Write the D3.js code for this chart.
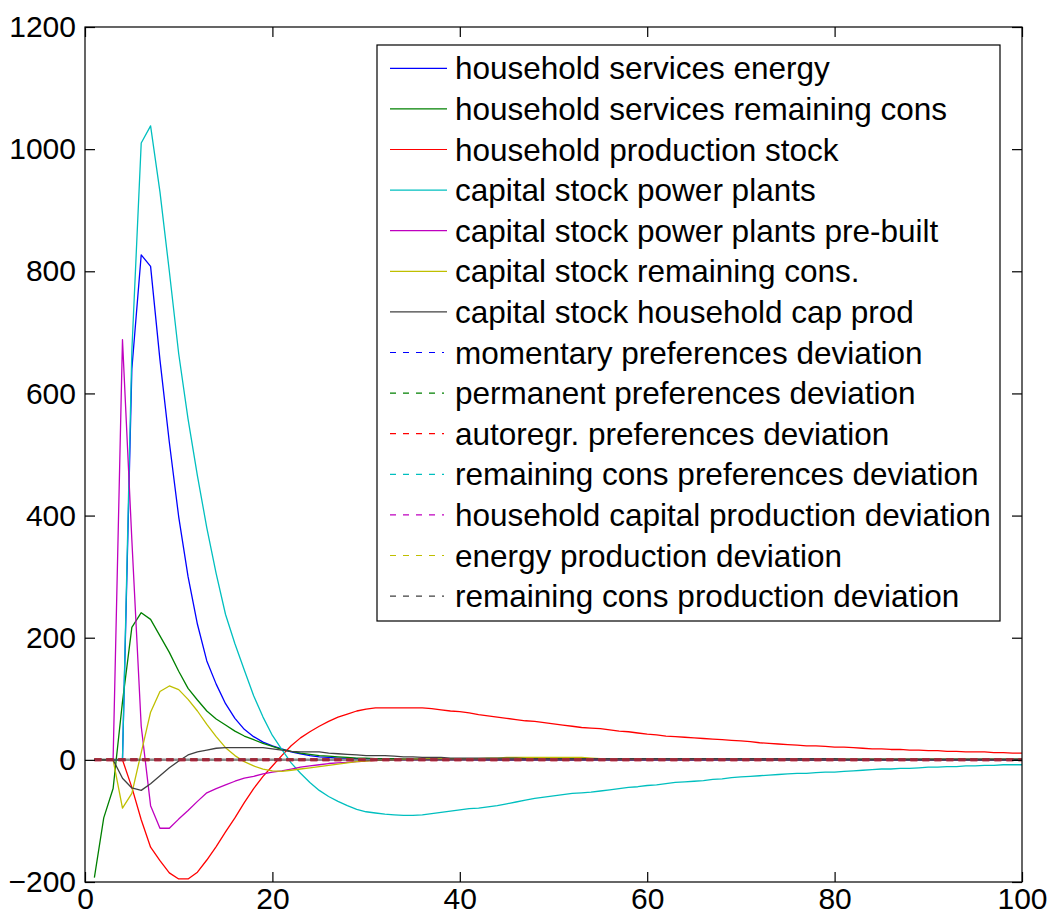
<!DOCTYPE html>
<html>
<head>
<meta charset="utf-8">
<script src="https://cdn.jsdelivr.net/npm/d3@7"></script>
<style>
  html, body { margin: 0; padding: 0; background: #ffffff; }
  svg { display: block; font-family: "Liberation Sans", Arial, Helvetica, sans-serif; }
</style>
</head>
<body>
<svg id="chart" width="1051" height="916"></svg>
<script>
// ---------------- DATA ----------------
const periods = [1,2,3,4,5,6,7,8,9,10,11,12,13,14,15,16,17,18,19,20,
  21,22,23,24,25,26,27,28,29,30,31,32,33,34,35,36,37,38,39,40,
  41,42,43,44,45,46,47,48,49,50,51,52,53,54,55,56,57,58,59,60,
  61,62,63,64,65,66,67,68,69,70,71,72,73,74,75,76,77,78,79,80,
  81,82,83,84,85,86,87,88,89,90,91,92,93,94,95,96,97,98,99,100];

const xTicks = [0, 20, 40, 60, 80, 100];
const yTicks = [-200, 0, 200, 400, 600, 800, 1000, 1200];

const householdServicesEnergy = [0,0,0,0,640,827,808,655,520,398,
  300,222,162,124,92,68,50,38,29,23,
  18,13,10,7,5,4,3,3,2,2,
  2,2,1,1,1,1,1,1,1,1,
  1,0,0,0,0,0,0,0,0,0,
  0,0,0,0,0,0,0,0,0,0,
  0,0,0,0,0,0,0,0,0,0,
  0,0,0,0,0,0,0,0,0,0,
  0,0,0,0,0,0,0,0,0,0,
  0,0,0,0,0,0,0,0,0,0];

const householdServicesRemainingCons = [-193,-95,-47,95,217,241,230,203,176,145,
  117,98,80,67,57,47,39,33,27,22,
  17,14,11,9,7,6,5,4,3,3,
  2,2,2,1,1,1,1,1,1,1,
  1,1,1,1,1,1,1,1,1,1,
  1,1,1,1,1,1,1,1,1,1,
  1,1,1,1,1,1,1,1,1,1,
  0,0,0,0,0,0,0,0,0,0,
  0,0,0,0,0,0,0,0,0,0,
  0,0,0,0,0,0,0,0,0,0];

const householdProductionStock = [0,0,0,0,-45,-98,-143,-165,-185,-195,
  -195,-184,-164,-142,-118,-95,-70,-47,-27,-10,
  7,23,36,46,55,63,70,75,80,83,
  85,85,85,85,85,85,84,82,80,79,
  77,74,72,70,68,66,64,63,61,59,
  57,55,53,52,51,49,47,46,44,42,
  41,39,38,37,36,35,34,33,32,31,
  30,28,27,26,25,24,23,23,22,21,
  21,20,19,18,18,17,17,16,16,15,
  15,14,14,13,13,13,12,12,11,11];

const capitalStockPowerPlants = [0,0,0,0,670,1010,1038,930,800,665,
  558,465,380,305,238,190,147,105,70,40,
  17,-5,-22,-37,-50,-60,-68,-75,-81,-85,
  -87,-89,-90,-91,-91,-90,-88,-86,-84,-82,
  -80,-79,-77,-75,-72,-69,-66,-63,-61,-59,
  -57,-55,-54,-53,-51,-49,-47,-45,-44,-42,
  -41,-39,-37,-36,-35,-34,-32,-31,-29,-28,
  -27,-26,-25,-24,-23,-22,-22,-21,-20,-20,
  -19,-18,-17,-16,-15,-15,-14,-14,-13,-12,
  -12,-11,-11,-10,-10,-9,-9,-8,-8,-8];

const capitalStockPowerPlantsPreBuilt = [0,0,0,688,360,55,-75,-112,-112,-97,
  -83,-68,-54,-47,-41,-35,-30,-27,-23,-20,
  -18,-15,-12,-10,-8,-6,-5,-4,-3,-2,
  -1,-1,0,0,0,0,0,0,0,0,
  0,0,0,0,0,0,0,0,0,0,
  0,0,0,0,0,0,0,0,0,0,
  0,0,0,0,0,0,0,0,0,0,
  0,0,0,0,0,0,0,0,0,0,
  0,0,0,0,0,0,0,0,0,0,
  0,0,0,0,0,0,0,0,0,0];

const capitalStockRemainingCons = [0,0,0,-79,-55,12,78,112,121,115,
  99,80,58,38,20,7,-3,-10,-15,-18,
  -19,-17,-15,-13,-11,-9,-7,-5,-3,-2,
  -1,0,0,1,1,2,2,2,2,2,
  2,2,3,3,4,4,4,4,4,4,
  4,4,4,3,2,2,2,2,2,2,
  2,2,2,2,2,2,2,2,2,2,
  2,2,2,2,2,2,2,2,2,2,
  1,1,1,1,1,1,1,1,1,1,
  1,1,1,1,1,1,1,1,1,1];

const capitalStockHouseholdCapProd = [0,0,0,-30,-46,-50,-39,-26,-13,-2,
  8,13,16,19,20,20,20,20,20,18,
  16,14,13,13,13,11,10,9,8,7,
  7,7,6,5,5,4,4,4,3,3,
  3,3,3,3,3,3,2,2,2,2,
  2,2,2,2,2,2,2,2,2,2,
  2,2,2,2,2,2,2,2,2,2,
  2,2,2,2,2,2,2,2,2,2,
  1,1,1,1,1,1,1,1,1,1,
  1,1,1,1,1,1,1,1,1,1];

// all deviation series read as flat zero lines
const deviationZero = [0,0,0,0,0,0,0,0,0,0,
  0,0,0,0,0,0,0,0,0,0,
  0,0,0,0,0,0,0,0,0,0,
  0,0,0,0,0,0,0,0,0,0,
  0,0,0,0,0,0,0,0,0,0,
  0,0,0,0,0,0,0,0,0,0,
  0,0,0,0,0,0,0,0,0,0,
  0,0,0,0,0,0,0,0,0,0,
  0,0,0,0,0,0,0,0,0,0,
  0,0,0,0,0,0,0,0,0,0];

const seriesNames = [
  "household services energy",
  "household services remaining cons",
  "household production stock",
  "capital stock power plants",
  "capital stock power plants pre-built",
  "capital stock remaining cons.",
  "capital stock household cap prod",
  "momentary preferences deviation",
  "permanent preferences deviation",
  "autoregr. preferences deviation",
  "remaining cons preferences deviation",
  "household capital production deviation",
  "energy production deviation",
  "remaining cons production deviation"
];
const seriesValues = [
  householdServicesEnergy, householdServicesRemainingCons, householdProductionStock,
  capitalStockPowerPlants, capitalStockPowerPlantsPreBuilt, capitalStockRemainingCons,
  capitalStockHouseholdCapProd,
  deviationZero, deviationZero, deviationZero, deviationZero, deviationZero, deviationZero, deviationZero
];
const seriesColors = ["#0000ff","#008000","#ff0000","#00bfbf","#bf00bf","#bfbf00","#404040",
                      "#0000ff","#008000","#ff0000","#00bfbf","#bf00bf","#bfbf00","#404040"];
const seriesDashed = [false,false,false,false,false,false,false,true,true,true,true,true,true,true];

// ---------------- LAYOUT ----------------
const svg = d3.select("#chart");
const W = 1051, H = 916;
const plot = { left: 85, right: 1022, top: 27, bottom: 882 };

svg.append("rect").attr("width", W).attr("height", H).attr("fill", "#ffffff");

const x = d3.scaleLinear().domain([0, 100]).range([plot.left, plot.right]);
const y = d3.scaleLinear().domain([-200, 1200]).range([plot.bottom, plot.top]);

const clipId = "plotclip";
svg.append("defs").append("clipPath").attr("id", clipId)
  .append("rect").attr("x", plot.left).attr("y", plot.top)
  .attr("width", plot.right - plot.left).attr("height", plot.bottom - plot.top);

const lineGen = d3.line().x((d, i) => x(periods[i])).y(d => y(d));

const gLines = svg.append("g").attr("clip-path", `url(#${clipId})`);

// solid series in order
seriesValues.forEach((vals, i) => {
  if (seriesDashed[i]) return;
  gLines.append("path")
    .attr("d", lineGen(vals))
    .attr("fill", "none")
    .attr("stroke", seriesColors[i])
    .attr("stroke-width", 1.3)
    .attr("stroke-linejoin", "round");
});

// dashed deviation series (all overlapping on zero); layered so the overlap reads like the original
const dashStyle = {
  7:  { w: 2.5, o: 1,    off: 0 },
  10: { w: 2.5, o: 1,    off: 0 },
  12: { w: 2.5, o: 1,    off: 0 },
  13: { w: 2.5, o: 0.6,  off: 6 },
  9:  { w: 3,   o: 1,    off: 0 },
  11: { w: 3,   o: 0.45, off: 0 },
  8:  { w: 3,   o: 0.3,  off: 0 }
};
[7, 10, 12, 13, 9, 11, 8].forEach(i => {
  const s = dashStyle[i];
  gLines.append("path")
    .attr("d", lineGen(seriesValues[i]))
    .attr("fill", "none")
    .attr("stroke", seriesColors[i])
    .attr("stroke-width", s.w)
    .attr("stroke-opacity", s.o)
    .attr("stroke-dasharray", "7,5")
    .attr("stroke-dashoffset", s.off);
});

// ---------------- AXES ----------------
const fontTick = 30;
const axL = d3.axisLeft(y).tickValues(yTicks).tickSize(-10).tickPadding(9).tickFormat(d3.format("d"));
const axR = d3.axisRight(y).tickValues(yTicks).tickSize(-10).tickFormat("");
const axB = d3.axisBottom(x).tickValues(xTicks).tickSize(-10).tickPadding(6).tickFormat(d3.format("d"));
const axT = d3.axisTop(x).tickValues(xTicks).tickSize(-10).tickFormat("");

function styleAxis(g) {
  g.selectAll(".tick line").attr("stroke", "#000").attr("stroke-width", 1.2);
  g.selectAll(".tick text").attr("fill", "#000").attr("font-size", fontTick)
    .attr("font-family", "'Liberation Sans', Arial, sans-serif");
  g.selectAll("path.domain").remove();
}

svg.append("g").attr("transform", `translate(${plot.left},0)`).call(axL).call(styleAxis);
svg.append("g").attr("transform", `translate(${plot.right},0)`).call(axR).call(styleAxis);
svg.append("g").attr("transform", `translate(0,${plot.bottom})`).call(axB).call(styleAxis);
svg.append("g").attr("transform", `translate(0,${plot.top})`).call(axT).call(styleAxis);
svg.append("rect")
  .attr("x", plot.left).attr("y", plot.top)
  .attr("width", plot.right - plot.left).attr("height", plot.bottom - plot.top)
  .attr("fill", "none").attr("stroke", "#000").attr("stroke-width", 1.2);

// ---------------- LEGEND ----------------
const legend = { left: 377, top: 45, right: 1000, bottom: 621, rowY0: 68.3, rowStep: 40.6 };
const gLeg = svg.append("g");
gLeg.append("rect")
  .attr("x", legend.left).attr("y", legend.top)
  .attr("width", legend.right - legend.left).attr("height", legend.bottom - legend.top)
  .attr("fill", "#ffffff").attr("stroke", "#000").attr("stroke-width", 1.2);

seriesNames.forEach((name, i) => {
  const yy = legend.rowY0 + i * legend.rowStep;
  gLeg.append("line")
    .attr("x1", 390).attr("x2", seriesDashed[i] ? 444 : 447)
    .attr("y1", yy).attr("y2", yy)
    .attr("stroke", seriesColors[i])
    .attr("stroke-width", 1.2)
    .attr("stroke-dasharray", seriesDashed[i] ? "6,7" : null);
  gLeg.append("text")
    .attr("x", 455).attr("y", yy)
    .attr("dy", "0.35em")
    .attr("font-size", 31.5)
    .attr("fill", "#000")
    .text(name);
});
</script>
</body>
</html>
